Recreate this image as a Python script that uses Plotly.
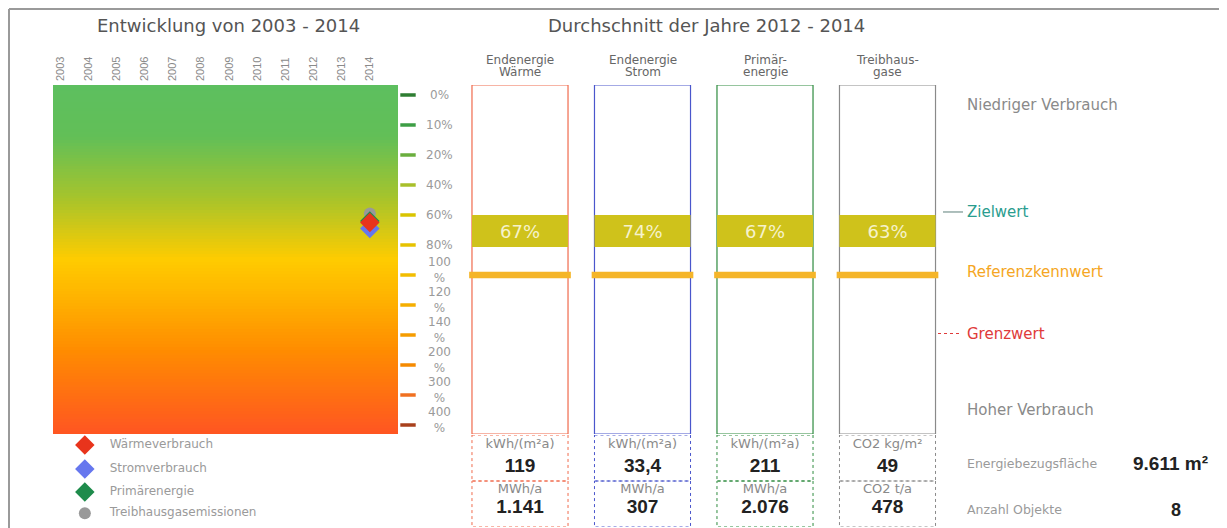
import numpy as np
import plotly.graph_objects as go

# ---------------- data ----------------
years = list(range(2003, 2015))
scale_pcts = [0, 10, 20, 40, 60, 80, 100, 120, 140, 200, 300, 400]
scale_labels = ["0%", "10%", "20%", "40%", "60%", "80%", "100<br>%", "120<br>%",
                "140<br>%", "200<br>%", "300<br>%", "400<br>%"]
tick_colors = ["#2e7d32", "#3d9e45", "#6aae3e", "#a8bf2a", "#d9c400", "#e6c200",
               "#f2bd00", "#f5ae00", "#f59c00", "#f58a00", "#f07020", "#a8401c"]

series_names = ["Treibhausgasemissionen", "Primärenergie", "Stromverbrauch", "Wärmeverbrauch"]
series_colors = ["#999999", "#1e8b4b", "#6677ee", "#e8341c"]
series_symbols = ["circle", "diamond", "diamond", "diamond"]
series_2014 = [59, 64, 69, 65]  # percent of reference, year 2014

col_line1 = ["Endenergie", "Endenergie", "Primär-", "Treibhaus-"]
col_line2 = ["Wärme", "Strom", "energie", "gase"]
column_colors = ["#f06a4c", "#4a56cc", "#2e8b3e", "#8a8a8a"]
avg_pct = [67, 74, 67, 63]
unit_specific = ["kWh/(m²a)", "kWh/(m²a)", "kWh/(m²a)", "CO2 kg/m²"]
value_specific = ["119", "33,4", "211", "49"]
unit_total = ["MWh/a", "MWh/a", "MWh/a", "CO2 t/a"]
value_total = ["1.141", "307", "2.076", "478"]

zielwert_pct = 60
band_end_pct = 80
referenz_pct = 100
grenzwert_pct = 140

legend_names = ["Wärmeverbrauch", "Stromverbrauch", "Primärenergie", "Treibhausgasemissionen"]
legend_colors = ["#e8341c", "#6677ee", "#1e8b4b", "#999999"]
legend_symbols = ["diamond", "diamond", "diamond", "circle"]

bezugsflaeche = "9.611 m²"
anzahl_objekte = "8"

# ---------------- helpers ----------------
W, H = 1227, 528
OFF = 8  # page body margin
FONT = "Liberation Sans, Arial, sans-serif"
WIDE = "DejaVu Sans, Verdana, sans-serif"


def px(x):
    return (x - OFF) / W


def py(y):
    return 1 - (y - OFF) / H


def idx(p):
    return float(np.interp(p, scale_pcts, range(len(scale_pcts))))


Y_TOP, Y_BOT = -0.333, 11.3

fig = go.Figure()

# ---------------- left: gradient ----------------
edges = np.linspace(Y_TOP, Y_BOT, 121)
mids = (edges[:-1] + edges[1:]) / 2
zfrac = [[(m - Y_TOP) / (Y_BOT - Y_TOP)] for m in mids]
cscale = [[0.0, "#5dbf5f"], [0.15, "#62bf57"], [0.33, "#a9c42a"], [0.5, "#ffcc00"],
          [0.62, "#ffb000"], [0.76, "#ff8c00"], [1.0, "#ff5522"]]
fig.add_trace(go.Heatmap(x=[2002.75, 2015.0], y=edges, z=zfrac, colorscale=cscale,
                         zmin=0, zmax=1, showscale=False, hoverinfo="skip",
                         xaxis="x", yaxis="y"))

for name, col, sym, v in zip(series_names, series_colors, series_symbols, series_2014):
    fig.add_trace(go.Scatter(x=[2014], y=[idx(v)], mode="markers", name=name,
                             marker=dict(symbol=sym, size=15 if sym == "diamond" else 12,
                                         color=col, line=dict(width=0)),
                             xaxis="x", yaxis="y", showlegend=False))

# colored tick dashes
fig.add_trace(go.Scatter(x=[0.5] * len(scale_pcts), y=[idx(p) for p in scale_pcts],
                         mode="markers", xaxis="x4", yaxis="y", showlegend=False,
                         marker=dict(symbol="line-ew", size=11,
                                     line=dict(width=3.5, color=tick_colors)),
                         hoverinfo="skip"))

# ---------------- middle: columns ----------------
xc = list(range(len(col_line1)))
fig.add_trace(go.Bar(x=xc, y=[Y_BOT - Y_TOP] * 4, base=Y_TOP, width=0.784,
                     marker=dict(color="rgba(0,0,0,0)", line=dict(color=column_colors, width=1.2)),
                     xaxis="x2", yaxis="y", showlegend=False, hoverinfo="skip"))
fig.add_trace(go.Bar(x=xc, y=[idx(band_end_pct) - idx(zielwert_pct) + 0.07] * 4,
                     base=idx(zielwert_pct), width=0.784,
                     marker=dict(color="#cfc21b", line=dict(width=0)),
                     text=[f"{v}%" for v in avg_pct], textposition="inside",
                     insidetextanchor="middle", textangle=0,
                     textfont=dict(color="#f6f2cc", size=18, family=WIDE),
                     xaxis="x2", yaxis="y", showlegend=False, hoverinfo="skip"))
fig.add_trace(go.Bar(x=xc, y=[0.22] * 4, base=idx(referenz_pct) - 0.11, width=0.83,
                     marker=dict(color="#f5b529", line=dict(width=0)),
                     xaxis="x2", yaxis="y", showlegend=False, hoverinfo="skip"))

# table cells
for i, c in enumerate(column_colors):
    for r in range(2):
        fig.add_shape(type="rect", xref="x2", yref="y3", x0=i - 0.392, x1=i + 0.392,
                      y0=r, y1=r + 1, line=dict(color=c, width=1, dash="dot"))

fig.add_trace(go.Scatter(x=xc, y=[0.22] * 4, mode="text", text=unit_specific,
                         textfont=dict(size=13, color="#8a8a8a", family=WIDE),
                         xaxis="x2", yaxis="y3", showlegend=False, hoverinfo="skip"))
fig.add_trace(go.Scatter(x=xc, y=[0.7] * 4, mode="text", text=[f"<b>{v}</b>" for v in value_specific],
                         textfont=dict(size=19, color="#222222", family=FONT),
                         xaxis="x2", yaxis="y3", showlegend=False, hoverinfo="skip"))
fig.add_trace(go.Scatter(x=xc, y=[1.2] * 4, mode="text", text=unit_total,
                         textfont=dict(size=13, color="#8a8a8a", family=WIDE),
                         xaxis="x2", yaxis="y3", showlegend=False, hoverinfo="skip"))
fig.add_trace(go.Scatter(x=xc, y=[1.6] * 4, mode="text", text=[f"<b>{v}</b>" for v in value_total],
                         textfont=dict(size=19, color="#222222", family=FONT),
                         xaxis="x2", yaxis="y3", showlegend=False, hoverinfo="skip"))

# ---------------- legend (bottom left) ----------------
leg_rows = [0.22, 0.74, 1.24, 1.7]
for n, c, s, r in zip(legend_names, legend_colors, legend_symbols, leg_rows):
    fig.add_trace(go.Scatter(x=[0.17], y=[r], mode="markers",
                             marker=dict(symbol=s, size=15 if s == "diamond" else 12, color=c),
                             xaxis="x3", yaxis="y3", showlegend=False, hoverinfo="skip"))
    fig.add_trace(go.Scatter(x=[0.225], y=[r], mode="text", text=[n], textposition="middle right",
                             textfont=dict(size=12, color="#9a9a9a", family=WIDE),
                             xaxis="x3", yaxis="y3", showlegend=False, hoverinfo="skip"))

# ---------------- annotations ----------------
ann = []


def note(text, x, y, xref="paper", yref="paper", xanchor="center", size=12, color="#8a8a8a",
         family=WIDE, yshift=0):
    ann.append(dict(text=text, x=x, y=y, xref=xref, yref=yref, xanchor=xanchor, yanchor="middle",
                    showarrow=False, yshift=yshift, font=dict(size=size, color=color, family=family)))


note("Entwicklung von 2003 - 2014", px(228), py(26), size=18, color="#555555")
note("Durchschnitt der Jahre 2012 - 2014", px(706), py(26), size=18, color="#555555")
for i in xc:
    note(col_line1[i], i, py(60), xref="x2", size=12, color="#666666")
    note(col_line2[i], i, py(72), xref="x2", size=12, color="#666666")
for p, lab in zip(scale_pcts, scale_labels):
    note(lab, px(439), idx(p), yref="y", size=12, color="#9a9a9a",
         yshift=5 if "<br>" in lab else 0)

right_x = px(965)
RS = 15
note("Niedriger Verbrauch", right_x, 0.33, yref="y", xanchor="left", size=RS, color="#8a8a8a")
note("Zielwert", right_x, idx(zielwert_pct) - 0.1, yref="y", xanchor="left", size=RS, color="#2a9d8f")
note("Referenzkennwert", right_x, idx(referenz_pct) - 0.1, yref="y", xanchor="left", size=RS,
     color="#f5a623")
note("Grenzwert", right_x, idx(grenzwert_pct) - 0.05, yref="y", xanchor="left", size=RS, color="#e03a3a")
note("Hoher Verbrauch", right_x, 10.5, yref="y", xanchor="left", size=RS, color="#8a8a8a")
note("Energiebezugsfläche", right_x, 0.61, yref="y3", xanchor="left", size=12.5, color="#9a9a9a")
note("Anzahl Objekte", right_x, 1.63, yref="y3", xanchor="left", size=12.5, color="#9a9a9a")
note(f"<b>{bezugsflaeche}</b>", px(1210), 0.61, yref="y3", xanchor="right", size=19, color="#222222",
     family=FONT)
note(f"<b>{anzahl_objekte}</b>", px(1176), 1.63, yref="y3", size=18, color="#222222", family=FONT)

shapes = [
    dict(type="line", xref="paper", yref="paper", x0=px(9), x1=1, y0=py(9), y1=py(9),
         line=dict(color="#9a9a9a", width=2)),
    dict(type="line", xref="paper", yref="paper", x0=px(9), x1=px(9), y0=py(9), y1=0,
         line=dict(color="#9a9a9a", width=2)),
    dict(type="line", xref="paper", yref="y", x0=px(943), x1=px(963),
         y0=idx(zielwert_pct) - 0.1, y1=idx(zielwert_pct) - 0.1,
         line=dict(color="#5d7f7a", width=1)),
    dict(type="line", xref="paper", yref="y", x0=px(938), x1=px(962),
         y0=idx(grenzwert_pct) - 0.05, y1=idx(grenzwert_pct) - 0.05,
         line=dict(color="#e03a3a", width=1, dash="dot")),
]
for s in shapes:
    fig.add_shape(**s)

hidden = dict(showgrid=False, zeroline=False, showticklabels=False, ticks="", showline=False)

fig.update_layout(
    width=W, height=H, margin=dict(l=0, r=0, t=0, b=0),
    paper_bgcolor="white", plot_bgcolor="rgba(0,0,0,0)",
    barmode="overlay", showlegend=False, annotations=ann,
    font=dict(family=FONT),
    xaxis=dict(domain=[px(53), px(398)], range=[2002.75, 2015.0], side="top",
               tickmode="array", tickvals=years, ticktext=[str(y) for y in years],
               tickangle=-90, tickfont=dict(size=11, color="#8a8a8a", family=FONT),
               ticks="", showgrid=False, zeroline=False, showline=False, anchor="y",
               ticklabelstandoff=3),
    yaxis=dict(domain=[py(434), py(85)], range=[Y_BOT, Y_TOP], anchor="x", **hidden),
    xaxis2=dict(domain=[px(458.75), px(948.75)], range=[-0.5, 3.5], anchor="y", **hidden),
    xaxis3=dict(domain=[0, px(460)], range=[0, 1], anchor="y3", **hidden),
    xaxis4=dict(domain=[px(400), px(416)], range=[0, 1], anchor="y", **hidden),
    yaxis3=dict(domain=[py(527), py(435)], range=[2, 0], anchor="x2", **hidden),
)

fig.write_html("out.html")
